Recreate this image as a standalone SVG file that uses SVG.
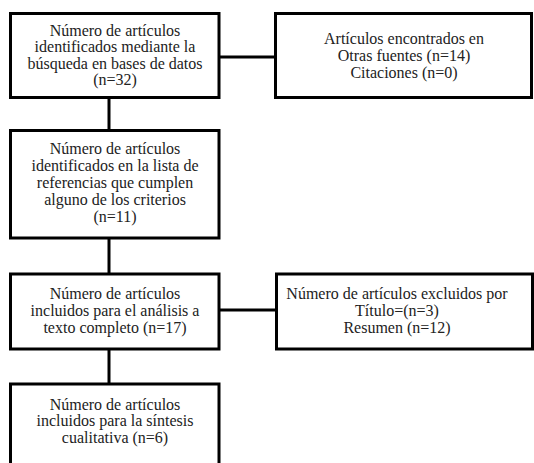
<svg xmlns="http://www.w3.org/2000/svg" width="534" height="463" viewBox="0 0 534 463">
<style>
.box{fill:#fff;stroke:#000;stroke-width:3}
.con{stroke:#000;stroke-width:3;fill:none}
text{font-family:"Liberation Serif","Times New Roman",serif;font-size:16px;fill:#222;text-anchor:middle}
</style>
<rect width="534" height="463" fill="#fff"/>
<g id="connectors">
<line class="con" x1="109" y1="98" x2="109" y2="130"/>
<line class="con" x1="109" y1="238" x2="109" y2="274"/>
<line class="con" x1="109" y1="349" x2="109" y2="384"/>
<line class="con" x1="219" y1="57" x2="276" y2="57"/>
<line class="con" x1="219" y1="310" x2="277" y2="310"/>
</g>
<g id="n1">
<rect class="box" x="10.5" y="13.5" width="208.5" height="84"/>
<text x="115" y="35.5">Número de artículos</text>
<text x="115" y="52">identificados mediante la</text>
<text x="115" y="68.5">búsqueda en bases de datos</text>
<text x="115" y="85">(n=32)</text>
</g>
<g id="n2">
<rect class="box" x="275.5" y="13.5" width="256" height="84"/>
<text x="404" y="43.5">Artículos encontrados en</text>
<text x="404" y="60.5">Otras fuentes (n=14)</text>
<text x="404" y="77.5">Citaciones (n=0)</text>
</g>
<g id="n3">
<rect class="box" x="10.5" y="130.5" width="208.5" height="107.5"/>
<text x="115" y="153.5">Número de artículos</text>
<text x="115" y="170.5">identificados en la lista de</text>
<text x="115" y="187.5">referencias que cumplen</text>
<text x="115" y="204.5">alguno de los criterios</text>
<text x="115" y="221.5">(n=11)</text>
</g>
<g id="n4">
<rect class="box" x="10.5" y="274" width="208.5" height="75"/>
<text x="115" y="298.5">Número de artículos</text>
<text x="115" y="315.5">incluidos para el análisis a</text>
<text x="115" y="332.5">texto completo (n=17)</text>
</g>
<g id="n5">
<rect class="box" x="276.5" y="274" width="256" height="75"/>
<text x="397" y="298.5">Número de artículos excluidos por</text>
<text x="397" y="315.5">Título=(n=3)</text>
<text x="397" y="332.5">Resumen (n=12)</text>
</g>
<g id="n6">
<rect class="box" x="10.5" y="384" width="208.5" height="92"/>
<text x="115" y="409.5">Número de artículos</text>
<text x="115" y="426">incluidos para la síntesis</text>
<text x="115" y="442.5">cualitativa (n=6)</text>
</g>
</svg>
